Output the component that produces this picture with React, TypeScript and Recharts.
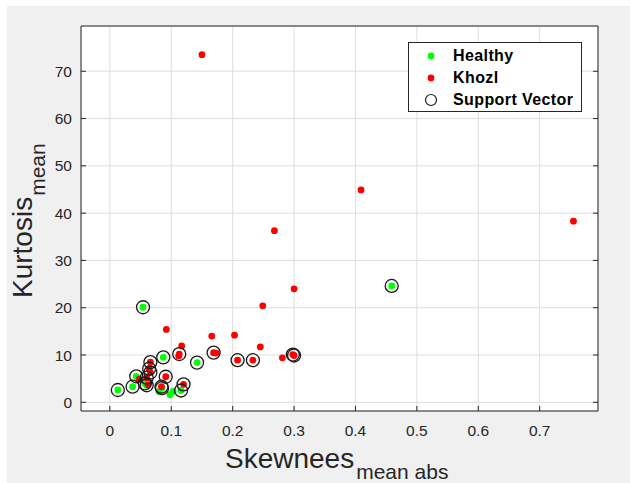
import React from 'react';
import { ScatterChart, Scatter, XAxis, YAxis, CartesianGrid } from 'recharts';

// axis ticks
const xTicks = [0, 0.1, 0.2, 0.3, 0.4, 0.5, 0.6, 0.7];
const yTicks = [0, 10, 20, 30, 40, 50, 60, 70];

// Healthy class
const healthySkew = [0.054, 0.459, 0.013, 0.037, 0.043, 0.057, 0.060, 0.063, 0.087, 0.085, 0.098, 0.103, 0.080, 0.116, 0.142];
const healthyKurt = [20.1, 24.6, 2.6, 3.3, 5.5, 4.0, 3.6, 4.3, 9.5, 3.0, 1.6, 2.3, 2.3, 2.5, 8.4];
const healthySV = [1, 1, 1, 1, 1, 1, 1, 0, 1, 1, 0, 0, 0, 1, 1];

// Khozl class
const khozlSkew = [0.150, 0.409, 0.268, 0.755, 0.300, 0.249, 0.092, 0.166, 0.203, 0.117, 0.245, 0.113, 0.112, 0.169, 0.173, 0.300, 0.298, 0.281, 0.208, 0.233, 0.066, 0.064, 0.066, 0.091, 0.048, 0.060, 0.120, 0.084, 0.062];
const khozlKurt = [73.5, 44.9, 36.3, 38.3, 24.0, 20.4, 15.4, 14.0, 14.2, 11.9, 11.7, 10.2, 9.8, 10.5, 10.4, 9.9, 10.1, 9.4, 8.9, 8.9, 8.5, 7.1, 6.3, 5.4, 4.9, 5.2, 3.8, 3.3, 3.7];
const khozlSV = [0, 0, 0, 0, 0, 0, 0, 0, 0, 0, 0, 1, 0, 1, 0, 1, 1, 0, 1, 1, 1, 1, 1, 1, 0, 1, 1, 1, 0];

const healthyData = healthySkew.map((x, i) => ({ x, y: healthyKurt[i] }));
const khozlData = khozlSkew.map((x, i) => ({ x, y: khozlKurt[i] }));
const svData = [
  ...healthyData.filter((_, i) => healthySV[i]),
  ...khozlData.filter((_, i) => khozlSV[i]),
];

const FONT = '"Liberation Sans", Arial, Helvetica, sans-serif';
const AXIS = '#262626';
const X_DOMAIN: [number, number] = [-0.047, 0.795];
const Y_DOMAIN: [number, number] = [-1.84, 79.57];

const dot = (color: string) => (props: any) => (
  <circle cx={props.cx} cy={props.cy} r={3.4} fill={color} />
);
const ring = (props: any) => (
  <circle cx={props.cx} cy={props.cy} r={6.5} fill="none" stroke="#1a1a1a" strokeWidth={1.3} />
);

const BottomTick = ({ x, y, payload }: any) => (
  <g>
    <line x1={x} y1={y} x2={x} y2={y - 5} stroke={AXIS} />
    <text x={x} y={y + 25} textAnchor="middle" fill={AXIS} fontSize={15.5} fontFamily={FONT}>
      {payload.value}
    </text>
  </g>
);
const TopTick = ({ x, y }: any) => <line x1={x} y1={y} x2={x} y2={y + 5} stroke={AXIS} />;
const LeftTick = ({ x, y, payload }: any) => (
  <g>
    <line x1={x} y1={y} x2={x + 5} y2={y} stroke={AXIS} />
    <text x={x - 9} y={y + 5.5} textAnchor="end" fill={AXIS} fontSize={15.5} fontFamily={FONT}>
      {payload.value}
    </text>
  </g>
);
const RightTick = ({ x, y }: any) => <line x1={x} y1={y} x2={x - 5} y2={y} stroke={AXIS} />;

const legendRow = (top: number, marker: React.ReactNode, label: string) => (
  <div style={{ position: 'absolute', left: 0, top, height: 20, display: 'flex', alignItems: 'center' }}>
    <svg width={44} height={20} style={{ display: 'block' }}>{marker}</svg>
    <span style={{ fontWeight: 'bold', fontSize: 16, letterSpacing: 0.4, color: '#000' }}>{label}</span>
  </div>
);

export default function App() {
  return (
    <div style={{ position: 'absolute', left: 0, top: 0, width: 630, height: 483, background: '#fff', fontFamily: FONT }}>
      <div style={{ position: 'absolute', left: 7, top: 6, right: 0, bottom: 0, background: '#f0f0f0' }} />
      <div style={{ position: 'absolute', left: 0, top: 0 }}>
        <ScatterChart width={630} height={483} margin={{ top: 0, right: 0, bottom: 0, left: 0 }}>
          <CartesianGrid stroke="#dedede" fill="#fff" />
          <XAxis
            dataKey="x" type="number" domain={X_DOMAIN} ticks={xTicks} interval={0}
            height={72} tickSize={0} tickMargin={0} tickLine={false} tick={<BottomTick />}
            axisLine={{ stroke: AXIS }} allowDataOverflow
            label={{
              content: () => (
                <text x={225} y={467.5} fill={AXIS} fontFamily={FONT}>
                  <tspan fontSize={28}>Skewnees</tspan>
                  <tspan fontSize={21} dx={2} dy={11.5}>mean abs</tspan>
                </text>
              ),
            }}
          />
          <XAxis
            xAxisId="top" orientation="top" type="number" domain={X_DOMAIN} ticks={xTicks} interval={0}
            height={26} tickSize={0} tickMargin={0} tickLine={false} tick={<TopTick />}
            axisLine={{ stroke: AXIS }} allowDataOverflow
          />
          <YAxis
            dataKey="y" type="number" domain={Y_DOMAIN} ticks={yTicks} interval={0}
            width={81} tickSize={0} tickMargin={0} tickLine={false} tick={<LeftTick />}
            axisLine={{ stroke: AXIS }} allowDataOverflow
            label={{
              content: () => (
                <text transform="translate(32,298) rotate(-90)" fill={AXIS} fontFamily={FONT}>
                  <tspan fontSize={28}>Kurtosis</tspan>
                  <tspan fontSize={21} dx={1} dy={13}>mean</tspan>
                </text>
              ),
            }}
          />
          <YAxis
            yAxisId="right" orientation="right" type="number" domain={Y_DOMAIN} ticks={yTicks} interval={0}
            width={32} tickSize={0} tickMargin={0} tickLine={false} tick={<RightTick />}
            axisLine={{ stroke: AXIS }} allowDataOverflow
          />
          <Scatter name="Healthy" data={healthyData} shape={dot('#00ff00')} isAnimationActive={false} />
          <Scatter name="Khozl" data={khozlData} shape={dot('#ff0000')} isAnimationActive={false} />
          <Scatter name="Support Vector" data={svData} shape={ring} isAnimationActive={false} />
        </ScatterChart>
      </div>
      <div
        style={{
          position: 'absolute', left: 408, top: 42, width: 172, height: 68,
          border: `1px solid ${AXIS}`, background: '#fff',
        }}
      >
        {legendRow(3, <circle cx={22} cy={10} r={3.4} fill="#00ff00" />, 'Healthy')}
        {legendRow(25, <circle cx={22} cy={10} r={3.4} fill="#ff0000" />, 'Khozl')}
        {legendRow(47, <circle cx={22} cy={10} r={5.5} fill="none" stroke="#1a1a1a" strokeWidth={1.2} />, 'Support Vector')}
      </div>
    </div>
  );
}
